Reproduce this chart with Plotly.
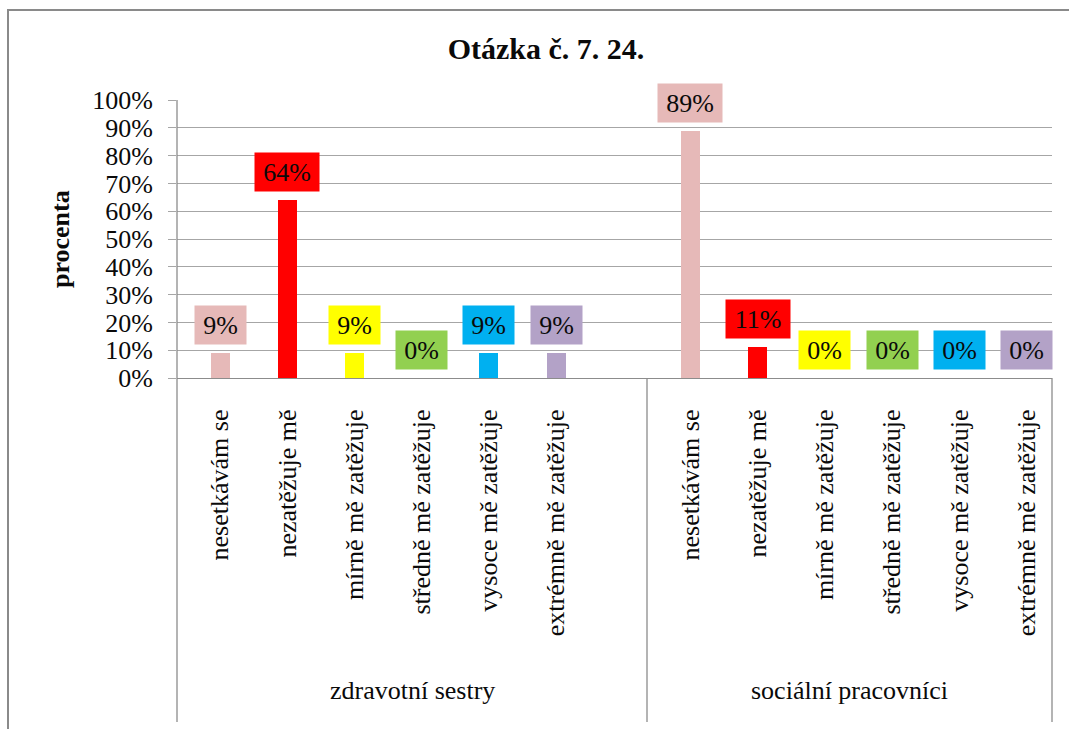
import plotly.graph_objects as go

# ---- data ----
title_text = "Otázka č. 7. 24."
y_title = "procenta"
groups = ["zdravotní sestry", "sociální pracovníci"]
categories = ["nesetkávám se", "nezatěžuje mě", "mírně mě zatěžuje",
              "středně mě zatěžuje", "vysoce mě zatěžuje", "extrémně mě zatěžuje"]
values_sestry = [0.09, 0.64, 0.09, 0.0, 0.09, 0.09]
values_pracovnici = [0.89, 0.11, 0.0, 0.0, 0.0, 0.0]
colors = ["#E6B9B8", "#FF0000", "#FFFF00", "#92D050", "#00B0F0", "#B3A2C7"]

FONT = "Liberation Serif"
TXT = "#0a0a0a"
W, H = 1069, 729
L, R, T, B = 177, 1052, 100, 378  # plot area pixels
slot = 67.2
first_center = 220

def px_to_x(px):
    return (px - first_center) / slot

xs, ys, cs, txt, ticktexts = [], [], [], [], []
for g, vals in enumerate([values_sestry, values_pracovnici]):
    for j, (cat, v) in enumerate(zip(categories, vals)):
        xs.append(j + g * 7)
        ys.append(v)
        cs.append(colors[j])
        txt.append(f"{round(v*100):.0f}%")
        ticktexts.append(cat)

fig = go.Figure()
fig.add_trace(go.Bar(x=xs, y=ys, marker=dict(color=cs, line=dict(width=0)),
                     width=19 / slot, showlegend=False, hoverinfo="skip"))

annotations = []
for x, y, c, t in zip(xs, ys, cs, txt):
    annotations.append(dict(x=x, y=y, xref="x", yref="y", text=t, showarrow=False,
                            yanchor="middle", yshift=28, bgcolor=c, borderpad=2,
                            width=(47 if len(t) == 2 else 60), height=34,
                            font=dict(family=FONT, size=26, color=TXT)))

# group labels
sep_px = [L, 647, R]
for g, name in enumerate(groups):
    cx = (sep_px[g] + sep_px[g + 1]) / 2
    annotations.append(dict(x=(cx - L) / (R - L), y=(B - 690) / (B - T), xref="paper", yref="paper",
                            text=name, showarrow=False, xanchor="center", yanchor="middle",
                            font=dict(family=FONT, size=26, color=TXT)))

annotations.append(dict(x=(60 - L) / (R - L), y=0.5, xref="paper", yref="paper", text=f"<b>{y_title}</b>",
                        showarrow=False, textangle=-90, xanchor="center", yanchor="middle",
                        font=dict(family=FONT, size=26, color=TXT)))

shapes = []
line_col = "#8C8C8C"
bottom_paper = (B - 722) / (B - T)
for px in sep_px:
    top = 1 if px == L else 0
    shapes.append(dict(type="line", xref="paper", yref="paper", x0=(px - L) / (R - L), x1=(px - L) / (R - L),
                       y0=top, y1=bottom_paper, line=dict(color=line_col, width=1.3)))
shapes.append(dict(type="rect", xref="paper", yref="paper",
                   x0=(8 - L) / (R - L), x1=(1080 - L) / (R - L),
                   y0=(B - 745) / (B - T), y1=(B - 10) / (B - T),
                   line=dict(color="#8A8A8A", width=2)))

fig.update_layout(
    width=W, height=H,
    margin=dict(l=L, r=W - R, t=T, b=H - B, pad=0),
    paper_bgcolor="white", plot_bgcolor="white",
    title=dict(text=f"<b>{title_text}</b>", x=546 / W, xanchor="center", y=1 - 48 / H, yanchor="middle",
               font=dict(family=FONT, size=30, color=TXT)),
    annotations=annotations, shapes=shapes, bargap=0,
)
fig.update_xaxes(range=[px_to_x(L), px_to_x(R)], tickmode="array", tickvals=xs, ticktext=ticktexts,
                 tickangle=-90, ticks="", showgrid=False, zeroline=False,
                 showline=True, linecolor=line_col, linewidth=1.3,
                 ticklabelstandoff=20, tickfont=dict(family=FONT, size=26, color=TXT))
fig.update_yaxes(range=[0, 1], dtick=0.1, tickformat=".0%", showgrid=True, gridcolor="#A6A6A6",
                 gridwidth=1.3, zeroline=False, showline=False, ticks="outside", ticklen=8,
                 tickcolor="#A6A6A6", tickwidth=1.3, ticklabelstandoff=10,
                 tickfont=dict(family=FONT, size=26, color=TXT))

fig.write_html("out.html")
